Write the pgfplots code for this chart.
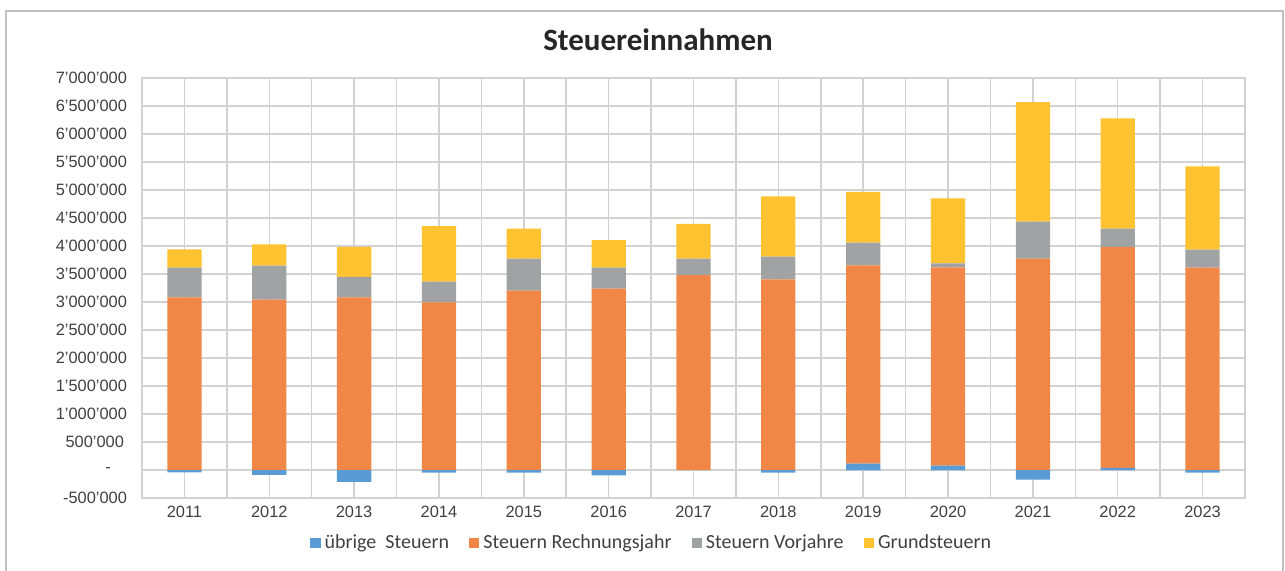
\documentclass[border=0pt]{standalone}
\usepackage{pgfplots}
\usepackage{pgfplotstable}
\pgfplotsset{compat=1.18}
\usepackage{fontspec}
\setmainfont{Carlito}
\newfontfamily\ticksf{Liberation Sans}
\definecolor{cblue}{HTML}{5B9BD5}
\definecolor{corange}{HTML}{F18746}
\definecolor{cgray}{HTML}{A0A2A4}
\definecolor{cyellow}{HTML}{FFC230}
\definecolor{gridc}{HTML}{D2D2D2}
\definecolor{framec}{HTML}{C0C0C0}
\definecolor{txt}{HTML}{404040}
\definecolor{ttl}{HTML}{262626}

% x: category index, ubpos/ubneg: positive and negative parts of "übrige Steuern"
\pgfplotstableread{
x  year ubpos  ubneg   rech    vor    grund
0  2011 0      -41000  3084000 529000 329000
1  2012 0      -89000  3041000 607000 382000
2  2013 0      -214000 3084000 363000 536000
3  2014 0      -48000  2994000 368000 994000
4  2015 0      -48000  3202000 571000 536000
5  2016 0      -95000  3238000 375000 494000
6  2017 0      0       3482000 292000 619000
7  2018 0      -48000  3405000 404000 1078000
8  2019 113000 0       3543000 404000 905000
9  2020 77000  0       3543000 71000  1161000
10 2021 0      -173000 3773000 661000 2137000
11 2022 36000  0       3946000 327000 1971000
12 2023 0      -48000  3613000 321000 1489000
}\data

\pgfplotsset{
  lg/.style={legend image code/.code={\fill[##1] (0pt,-2.6pt) rectangle (5.2pt,2.6pt);}},
  common/.style={
    scale only axis, width=551.5pt, height=210pt,
    xmin=-0.5, xmax=12.5, ymin=-500000, ymax=7000000,
    at={(71pt,36pt)}, anchor=south west,
  },
}

\begin{document}
\begin{tikzpicture}
\useasboundingbox (0,0) rectangle (642.5pt,285pt);
\draw[framec, line width=1pt] (3pt,-5pt) -- (3pt,279.5pt) -- (641.5pt,279.5pt) -- (641.5pt,-5pt);
\node[font=\fontsize{15.5}{18}\selectfont\bfseries, text=ttl] at (329pt,265pt) {Steuereinnahmen};

\begin{axis}[common,
  ybar stacked, bar width=0.404,
  scaled y ticks=false,
  axis line style={gridc, line width=0.75pt},
  xtick={0,...,12},
  xticklabels={2011,2012,2013,2014,2015,2016,2017,2018,2019,2020,2021,2022,2023},
  minor xtick={-0.5,0.5,...,12.5},
  xmajorgrids, xminorgrids, ymajorgrids,
  grid style={gridc, line width=0.75pt},
  minor grid style={gridc, line width=0.75pt},
  major tick length=0pt, minor tick length=0pt,
  ytick={-500000,0,500000,1000000,1500000,2000000,2500000,3000000,3500000,4000000,4500000,5000000,5500000,6000000,6500000,7000000},
  yticklabels={-500’000,-\hspace*{8pt},500’000\hspace*{1.5pt},1’000’000,1’500’000,2’000’000,2’500’000,3’000’000,3’500’000,4’000’000,4’500’000,5’000’000,5’500’000,6’000’000,6’500’000,7’000’000},
  yticklabel style={font=\ticksf\fontsize{8.2}{10}\selectfont, text=txt, xshift=-4pt},
  xticklabel style={font=\ticksf\fontsize{8.2}{10}\selectfont, text=txt, yshift=-0.5pt},
  legend columns=4,
  legend style={draw=none, fill=none, at={(0.463,-0.107)}, anchor=center,
    font=\fontsize{10}{12}\selectfont, text=txt,
    /tikz/every even column/.append style={column sep=8pt}},
]
\addplot[fill=cblue, draw=none, lg] table[x=x, y=ubpos]{\data};
\addlegendentry{übrige\ \ Steuern}
\addplot[fill=corange, draw=none, lg] table[x=x, y=rech]{\data};
\addlegendentry{Steuern Rechnungsjahr}
\addplot[fill=cgray, draw=none, lg] table[x=x, y=vor]{\data};
\addlegendentry{Steuern Vorjahre}
\addplot[fill=cyellow, draw=none, lg] table[x=x, y=grund]{\data};
\addlegendentry{Grundsteuern}
\end{axis}

\begin{axis}[common, hide axis, ybar, bar width=0.404, bar shift=0pt]
\addplot[fill=cblue, draw=none] table[x=x, y=ubneg]{\data};
\end{axis}
\end{tikzpicture}
\end{document}
